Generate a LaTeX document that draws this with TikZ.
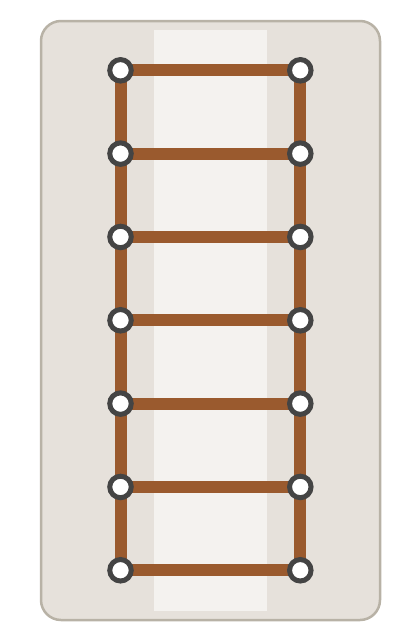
\documentclass[tikz,border=0pt]{standalone}
\definecolor{bgouter}{HTML}{E6E1DB}
\definecolor{bgborder}{HTML}{B8B2A6}
\definecolor{strip}{HTML}{F4F2EF}
\definecolor{rung}{HTML}{9A5A2E}
\definecolor{ring}{HTML}{444444}
\pgfdeclarelayer{bglayer}
\pgfdeclarelayer{linelayer}
\pgfsetlayers{bglayer,linelayer,main}
\tikzset{
  joint/.style={circle, draw=ring, fill=white, line width=5pt, minimum size=21.5pt, inner sep=0pt},
  rail/.style={draw=rung, line width=12pt},
}
\begin{document}
\begin{tikzpicture}[x=1pt,y=-1pt]
\useasboundingbox (0,0) rectangle (420,640);
\begin{pgfonlayer}{bglayer}
\draw[fill=bgouter, draw=bgborder, line width=2.5pt, rounded corners=20pt] (41,21) rectangle (380,620);
\fill[strip] (154,30) rectangle (267,611);
\end{pgfonlayer}
\foreach \i in {0,...,6} {
  \node[joint] (l\i) at (120.5, {70.3+\i*83.33}) {};
  \node[joint] (r\i) at (300.3, {70.3+\i*83.33}) {};
}
\begin{pgfonlayer}{linelayer}
\draw[rail] (l0.center) -- (l6.center);
\draw[rail] (r0.center) -- (r6.center);
\foreach \i in {0,...,6} {
  \draw[rail] (l\i.center) -- (r\i.center);
}
\end{pgfonlayer}
\end{tikzpicture}
\end{document}
